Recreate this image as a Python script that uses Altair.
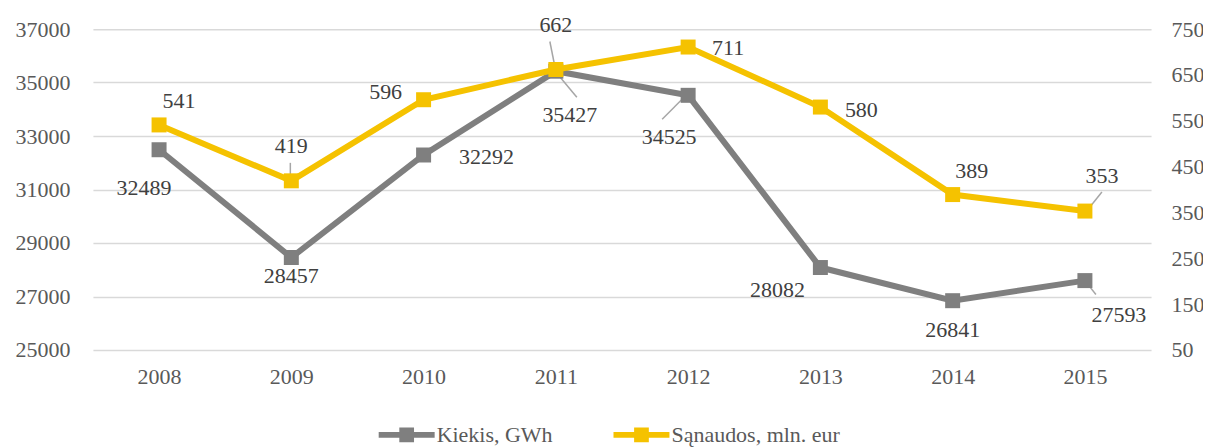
import altair as alt
import pandas as pd

years = ["2008", "2009", "2010", "2011", "2012", "2013", "2014", "2015"]
kiekis = [32489, 28457, 32292, 35427, 34525, 28082, 26841, 27593]
sanaudos = [541, 419, 596, 662, 711, 580, 389, 353]
series_names = ["Kiekis, GWh", "Sąnaudos, mln. eur"]
series_colors = ["#7F7F7F", "#F5C200"]

left_ticks = [25000, 27000, 29000, 31000, 33000, 35000, 37000]
right_ticks = [50, 150, 250, 350, 450, 550, 650, 750]

df = pd.DataFrame({"Metai": years, "Kiekis": kiekis, "Sanaudos": sanaudos})

FONT = "Liberation Serif"
FS = 22
GRAY, GOLD = series_colors

# label offsets (pixels) per year
gray_off = {"2008": (-15, 38), "2009": (0, 19), "2010": (63, 2), "2011": (14, 44),
            "2012": (-19, 42), "2013": (-43, 22), "2014": (0, 29), "2015": (34, 34)}
gold_off = {"2008": (20, -24), "2009": (0, -35), "2010": (-38, -8), "2011": (0, -45),
            "2012": (40, 1), "2013": (41, 3), "2014": (19, -24), "2015": (17, -35)}
# leader lines: (x1, y1, x2, y2) offsets from the point
gray_lead = {"2011": (1, 2, 21, 26), "2012": (-1, -1, -26, 24), "2015": (0, 0, 11, 14)}
gold_lead = {"2009": (-1, -18, -1, -3), "2011": (-6, -28, -1, -3), "2015": (17, -19, 1, 1)}

x_enc = alt.X("Metai:N", scale=alt.Scale(type="point", padding=0.5),
              axis=alt.Axis(title=None, labelAngle=0, labelPadding=17, grid=False,
                            domain=False, ticks=False))

sym_path = ("M-1,-0.105 L1,-0.105 L1,0.105 L-1,0.105 Z "
            "M-0.263,-0.263 L0.263,-0.263 L0.263,0.263 L-0.263,0.263 Z")
color_enc = alt.Color("serie:N", scale=alt.Scale(domain=series_names, range=series_colors),
                      legend=alt.Legend(title=None, orient="none", direction="horizontal",
                                        legendX=286, legendY=378,
                                        symbolType=sym_path, symbolSize=3136,
                                        symbolStrokeWidth=0, labelOffset=2,
                                        columnPadding=60, labelLimit=0,
                                        labelFont=FONT, labelFontSize=FS,
                                        labelColor="#595959"))


def group(field, color, name, scale, axis, offs, leads):
    base = alt.Chart(df).encode(x=x_enc)
    y = alt.Y(f"{field}:Q", scale=scale, axis=axis)
    layers = []
    for yr, (x1, y1, x2, y2) in leads.items():
        layers.append(
            base.transform_filter(alt.datum.Metai == yr)
            .mark_rule(color="#A6A6A6", strokeWidth=1.5, xOffset=x1, yOffset=y1,
                       x2Offset=x2, y2Offset=y2)
            .encode(y=y, x2="Metai:N", y2=f"{field}:Q")
        )
    layers.append(base.mark_line(color=color, strokeWidth=6).encode(y=y))
    layers.append(
        base.transform_calculate(serie=f"'{name}'")
        .mark_point(shape="square", filled=True, size=225, opacity=1)
        .encode(y=y, color=color_enc)
    )
    for yr, (dx, dy) in offs.items():
        layers.append(
            base.transform_filter(alt.datum.Metai == yr)
            .mark_text(font=FONT, fontSize=FS, color="#404040", dx=dx, dy=dy,
                       baseline="middle", align="center")
            .encode(y=y, text=f"{field}:Q")
        )
    return alt.layer(*layers)


left = group("Kiekis", GRAY, series_names[0],
             alt.Scale(domain=[25000, 37000], nice=False, zero=False),
             alt.Axis(title=None, values=left_ticks, grid=True, gridColor="#D9D9D9",
                      gridWidth=1.5, domain=False, ticks=False, labelPadding=23,
                      orient="left", format="d"),
             gray_off, gray_lead)
right = group("Sanaudos", GOLD, series_names[1],
              alt.Scale(domain=[50, 750], nice=False, zero=False),
              alt.Axis(title=None, values=right_ticks, grid=False, domain=False,
                       ticks=False, labelPadding=20, orient="right", format="d"),
              gold_off, gold_lead)

chart = (
    alt.layer(left, right)
    .resolve_scale(y="independent")
    .properties(width=1059, height=321,
                autosize=alt.AutoSizeParams(type="none"),
                padding={"left": 85, "top": 21, "right": 52, "bottom": 100})
    .configure_view(stroke=None)
    .configure_axis(labelFont=FONT, labelFontSize=FS, labelColor="#595959")
)

chart.save("out.html", embed_options={"renderer": "svg", "actions": False})
